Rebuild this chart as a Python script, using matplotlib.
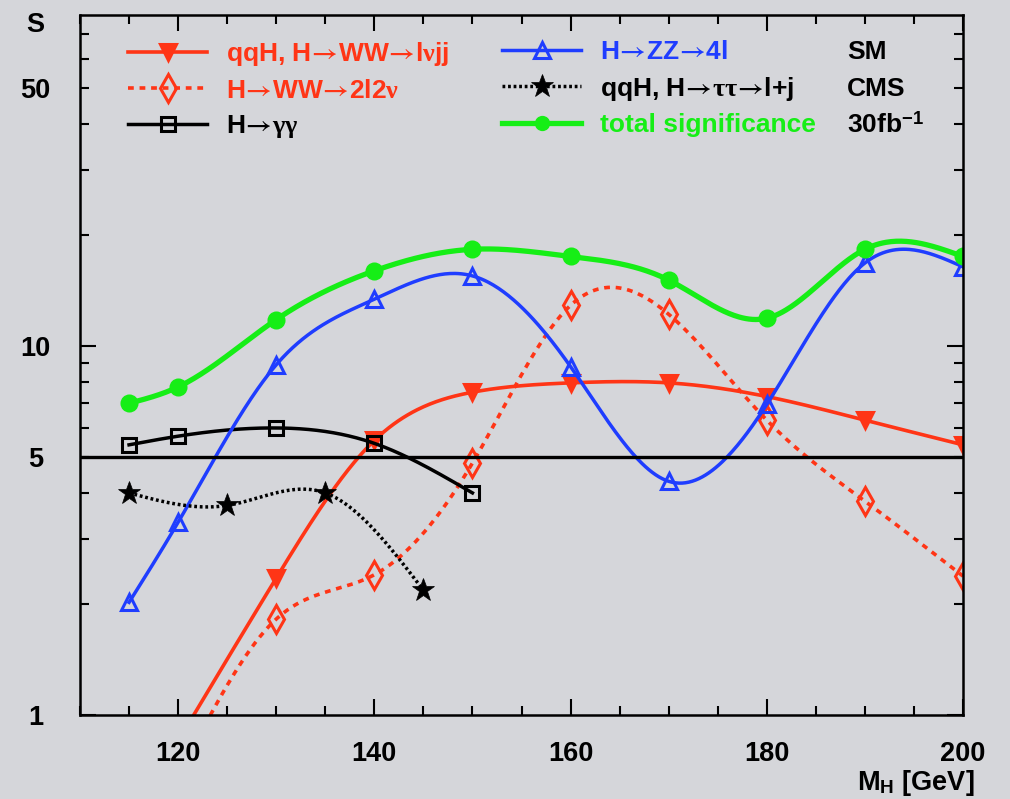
import numpy as np
import matplotlib
matplotlib.use('Agg')
import matplotlib.pyplot as plt
from matplotlib.lines import Line2D
from matplotlib.ticker import FixedLocator, FuncFormatter, MultipleLocator

plt.rcParams['font.family'] = ['Liberation Sans', 'DejaVu Sans']
plt.rcParams['font.weight'] = 'bold'
# thin arrows, upright serif greek letters, bold sans for \mathbf
plt.rcParams['mathtext.fontset'] = 'custom'
plt.rcParams['mathtext.rm'] = 'STIXGeneral'
plt.rcParams['mathtext.it'] = 'Liberation Serif'
plt.rcParams['mathtext.bf'] = 'Liberation Sans:bold'

# Higgs mass points (GeV) and significances for 30 fb^-1
mass = [115, 120, 130, 140, 150, 160, 170, 180, 190, 200]
total_sig = [7.0, 7.75, 11.8, 16.0, 18.3, 17.5, 15.1, 11.9, 18.3, 17.5]
zz_4l = [2.02, 3.33, 8.9, 13.4, 15.5, 8.8, 4.3, 6.95, 16.8, 16.4]

mass_ww = [120, 130, 140, 150, 160, 170, 180, 190, 200]
ww_lvjj = [0.85, 2.35, 5.55, 7.5, 7.95, 7.95, 7.3, 6.3, 5.4]
ww_2l2v = [0.68, 1.82, 2.4, 4.82, 12.9, 12.2, 6.3, 3.8, 2.38]

mass_gg = [115, 120, 130, 140, 150]
gamgam = [5.4, 5.7, 6.0, 5.45, 4.0]

mass_tt = [115, 125, 135, 145]
tautau = [4.0, 3.7, 4.0, 2.18]

discovery = 5.0

RED = '#ff3516'
BLUE = '#1f3dff'
GREEN = '#16ee16'
BG = '#d5d6da'


def smooth(x, y, n=500):
    # natural cubic spline through the points, done in log(y)
    x = np.asarray(x, float)
    ly = np.log10(np.asarray(y, float))
    k = len(x)
    h = np.diff(x)
    A = np.zeros((k, k))
    r = np.zeros(k)
    A[0, 0] = A[-1, -1] = 1.0
    for i in range(1, k - 1):
        A[i, i - 1] = h[i - 1]
        A[i, i] = 2 * (h[i - 1] + h[i])
        A[i, i + 1] = h[i]
        r[i] = 6 * ((ly[i + 1] - ly[i]) / h[i] - (ly[i] - ly[i - 1]) / h[i - 1])
    M = np.linalg.solve(A, r)
    xs = np.linspace(x[0], x[-1], n)
    j = np.clip(np.searchsorted(x, xs) - 1, 0, k - 2)
    t0 = x[j + 1] - xs
    t1 = xs - x[j]
    hj = h[j]
    ys = (M[j] * t0 ** 3 / (6 * hj) + M[j + 1] * t1 ** 3 / (6 * hj)
          + (ly[j] / hj - M[j] * hj / 6) * t0 + (ly[j + 1] / hj - M[j + 1] * hj / 6) * t1)
    return xs, 10 ** ys


# (color, linestyle, linewidth, marker, marker face, marker size, edge width)
st_lvjj = (RED, '-', 2.6, 'v', RED, 12, 2.2)
st_2l2v = (RED, (0, (1.6, 1.6)), 2.6, 'd', 'none', 14, 2.2)
st_gg = ('black', '-', 2.5, 's', 'none', 9.5, 2.2)
st_zz = (BLUE, '-', 2.5, '^', 'none', 12, 2.2)
st_tt = ('black', (0, (0.8, 0.8)), 2.5, '*', 'black', 17, 0.5)
st_tot = (GREEN, '-', 3.8, 'o', GREEN, 11, 2.0)

fig = plt.figure(figsize=(10.1, 7.99), dpi=100, facecolor=BG)
ax = fig.add_axes([80 / 1010, 1 - 715 / 799, 883 / 1010, 700 / 799])
ax.set_facecolor(BG)
ax.set_yscale('log')
ax.set_xlim(110, 200)
ax.set_ylim(1, 79)

series = [(mass_ww, ww_lvjj, st_lvjj), (mass_ww, ww_2l2v, st_2l2v), (mass_gg, gamgam, st_gg),
          (mass, zz_4l, st_zz), (mass_tt, tautau, st_tt), (mass, total_sig, st_tot)]
for xv, yv, (col, ls, lw, mk, mfc, ms, mew) in series:
    xs, ys = smooth(xv, yv)
    ax.plot(xs, ys, color=col, ls=ls, lw=lw)
    ax.plot(xv, yv, ls='none', marker=mk, ms=ms, mfc=mfc, mec=col, mew=mew, color=col)

ax.axhline(discovery, color='black', lw=2.4)

# axis ticks
ax.xaxis.set_major_locator(FixedLocator([120, 140, 160, 180, 200]))
ax.xaxis.set_minor_locator(MultipleLocator(5))
ax.yaxis.set_major_locator(FixedLocator([1, 10]))
ax.yaxis.set_minor_locator(FixedLocator([2, 3, 4, 5, 6, 7, 8, 9, 20, 30, 40, 50, 60, 70]))
ax.yaxis.set_major_formatter(FuncFormatter(lambda v, p: '%d' % v))
ax.yaxis.set_minor_formatter(FuncFormatter(lambda v, p: '%d' % v if v in (5, 50) else ''))
ax.tick_params(which='both', direction='in', top=True, right=True, width=1.5, colors='black')
ax.tick_params(which='major', length=11.5)
ax.tick_params(which='minor', length=6.5)
ax.tick_params(axis='x', which='major', labelsize=19.5, pad=19)
ax.tick_params(axis='y', which='both', labelsize=19.5, pad=32)
for lab in ax.get_yticklabels(which='both'):
    lab.set_horizontalalignment('center')
for s in ax.spines.values():
    s.set_linewidth(1.8)

fig.text(35 / 1010, 1 - 25 / 799, 'S', fontsize=19.5, ha='center', va='center')
fig.text(975 / 1010, 1 - 790 / 799, r'M$_{\mathbf{H}}$ [GeV]', fontsize=19.5, ha='right', va='baseline')


# legend
def handle(col, ls, lw, mk, mfc, ms, mew):
    return Line2D([], [], color=col, ls=ls, lw=lw, marker=mk, mfc=mfc, mec=col, ms=ms, mew=mew)


ARR = r'$\!\rightarrow\!$'
h1 = [handle(*st_lvjj), handle(*st_2l2v), handle(*st_gg)]
l1 = ['qqH, H' + ARR + 'WW' + ARR + r'l$\nu$jj', 'H' + ARR + 'WW' + ARR + r'2l2$\nu$',
      r'H$\!\rightarrow\!\gamma\gamma$']
h2 = [handle(*st_zz), handle(*st_tt), handle(GREEN, '-', 3.8, 'o', GREEN, 9, 2.0)]
l2 = ['H' + ARR + 'ZZ' + ARR + '4l', r'qqH, H$\!\rightarrow\!\tau\tau\!\rightarrow\!$l+j',
      'total significance']

kw = dict(loc='upper left', frameon=False, fontsize=19, handlelength=3.0, handletextpad=0.7,
          labelspacing=0.4, borderpad=0, borderaxespad=0, numpoints=1,
          bbox_transform=fig.transFigure)
leg1 = ax.legend(h1, l1, bbox_to_anchor=(128 / 1010, 1 - 40 / 799), **kw)
for t, c in zip(leg1.get_texts(), [RED, RED, 'black']):
    t.set_color(c)
ax.add_artist(leg1)
leg2 = ax.legend(h2, l2, bbox_to_anchor=(502 / 1010, 1 - 40 / 799), **kw)
for t, c in zip(leg2.get_texts(), [BLUE, 'black', GREEN]):
    t.set_color(c)

for i, s in enumerate(['SM', 'CMS', r'30fb$^{\mathbf{-1}}$']):
    fig.text(847 / 1010, 1 - (52 + 36.5 * i) / 799, s, fontsize=19, ha='left', va='center')

fig.savefig('out.png', dpi=100, facecolor=BG)
